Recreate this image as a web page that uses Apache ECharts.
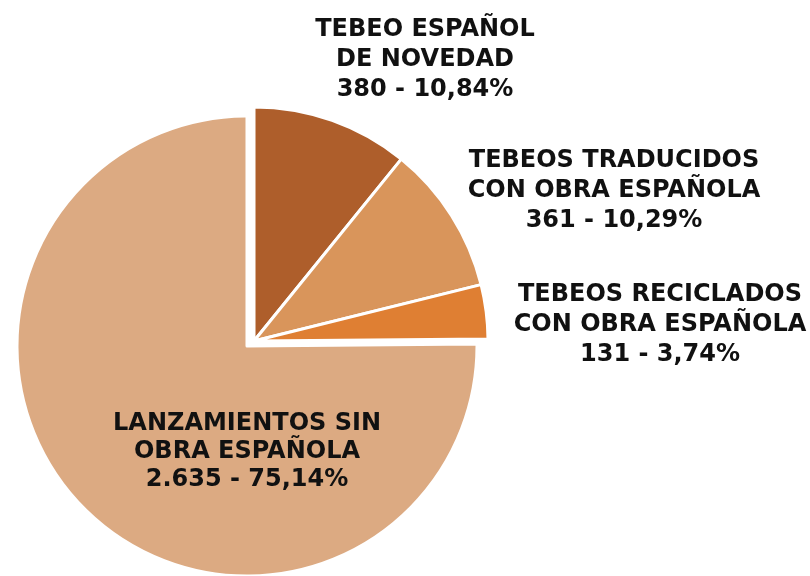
<!DOCTYPE html>
<html>
<head>
<meta charset="utf-8">
<style>
  html, body { margin: 0; padding: 0; background: #fff; }
  #chartmain_pie { width: 810px; height: 576px; }
</style>
<script src="https://cdn.jsdelivr.net/npm/echarts@6/dist/echarts.min.js"></script>
</head>
<body>
<div id="chartmain_pie"></div>
<script>
// 数据
const categories = [
    'TEBEO ESPAÑOL\nDE NOVEDAD',
    'TEBEOS TRADUCIDOS\nCON OBRA ESPAÑOLA',
    'TEBEOS RECICLADOS\nCON OBRA ESPAÑOLA',
    'LANZAMIENTOS SIN\nOBRA ESPAÑOLA'
];
const values = [380, 361, 131, 2635];
const colors = ['#ae5e2b', '#d9955b', '#df7f33', '#dcaa82'];

// 标签位置（像素）
const labelPos = [[425, 60], [614, 191], [660, 325], [247, 452]];

// 大扇区单独一个系列（向左下偏移）
const explodedIndex = 3;

const total = values.reduce(function (a, b) { return a + b; }, 0);

const pie = echarts.init(document.getElementById('chartmain_pie'));

function buildData(showExploded) {
    return categories.map(function (name, i) {
        const visible = (i === explodedIndex) === showExploded;
        return {
            name: name,
            value: values[i],
            itemStyle: visible
                ? { color: colors[i], borderColor: '#fff', borderWidth: 3 }
                : { color: 'transparent', borderWidth: 0 }
        };
    });
}

const option = {
    animation: false,
    series: [
        {
            // 大扇区
            type: 'pie',
            center: [247, 346],
            radius: 230,
            startAngle: 90,
            clockwise: true,
            silent: true,
            label: { show: false },
            labelLine: { show: false },
            data: buildData(true)
        },
        {
            // 小扇区 + 所有标签
            type: 'pie',
            center: [254, 341],
            radius: 234,
            startAngle: 90,
            clockwise: true,
            avoidLabelOverlap: false,
            emphasis: { disabled: true },
            label: {
                show: true,
                position: 'outside',
                color: '#111',
                fontFamily: 'DejaVu Sans',
                fontWeight: 'bold',
                fontSize: 24,
                lineHeight: 30,
                align: 'center',
                formatter: function (p) {
                    const v = p.value >= 1000
                        ? Math.floor(p.value / 1000) + '.' + String(p.value % 1000).padStart(3, '0')
                        : String(p.value);
                    const pct = (p.value / total * 100).toFixed(2).replace('.', ',');
                    return p.name + '\n' + v + ' - ' + pct + '%';
                }
            },
            labelLine: { show: false },
            labelLayout: function (params) {
                const pos = labelPos[params.dataIndex];
                return {
                    x: pos[0],
                    y: pos[1],
                    align: 'center',
                    verticalAlign: 'middle'
                };
            },
            data: buildData(false).map(function (d, i) {
                if (i === explodedIndex) {
                    d.label = { lineHeight: 28 };
                }
                return d;
            })
        }
    ]
};

pie.setOption(option);
window.addEventListener('resize', function () {
    pie.resize();
});
</script>
</body>
</html>
